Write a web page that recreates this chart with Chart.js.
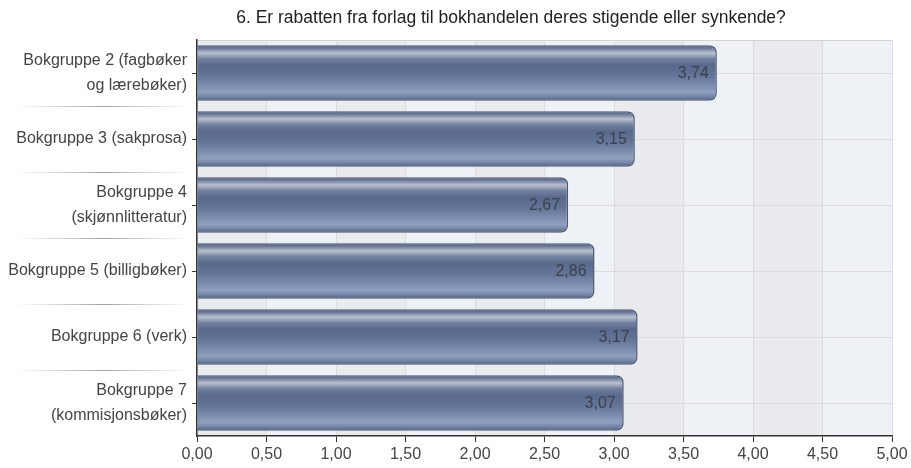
<!DOCTYPE html>
<html>
<head>
<meta charset="utf-8">
<script src="https://cdn.jsdelivr.net/npm/chart.js@4.4.1/dist/chart.umd.min.js"></script>
<style>
  html, body { margin: 0; padding: 0; background: #fff; }
  #wrap { width: 911px; height: 468px; position: relative; }
</style>
</head>
<body>
<div id="wrap"><canvas id="chart"></canvas></div>
<script>
// data
var titleText = '6. Er rabatten fra forlag til bokhandelen deres stigende eller synkende?';
var categories = [
    ['Bokgruppe 2 (fagbøker', 'og lærebøker)'],
    'Bokgruppe 3 (sakprosa)',
    ['Bokgruppe 4', '(skjønnlitteratur)'],
    'Bokgruppe 5 (billigbøker)',
    'Bokgruppe 6 (verk)',
    ['Bokgruppe 7', '(kommisjonsbøker)']
];
var values = [3.74, 3.15, 2.67, 2.86, 3.17, 3.07];
var valueLabels = ['3,74', '3,15', '2,67', '2,86', '3,17', '3,07'];
var xTickLabels = ['0,00', '0,50', '1,00', '1,50', '2,00', '2,50', '3,00', '3,50', '4,00', '4,50', '5,00'];

var FONT = '"Liberation Sans", Arial, sans-serif';

// bakgrunn med striper + ramme
var bandsPlugin = {
    id: 'bands',
    beforeDraw: function (chart) {
        var a = chart.chartArea, ctx = chart.ctx, x = chart.scales.x;
        ctx.save();
        ctx.fillStyle = '#eef1f5';
        ctx.fillRect(a.left, a.top, a.right - a.left, a.bottom - a.top);
        ctx.fillStyle = '#eaebee';
        var t = x.ticks;
        for (var i = 0; i < t.length - 1; i += 2) {
            var x0 = x.getPixelForValue(t[i].value), x1 = x.getPixelForValue(t[i + 1].value);
            ctx.fillRect(x0, a.top, x1 - x0, a.bottom - a.top);
        }
        ctx.strokeStyle = '#d2d2d2';
        ctx.lineWidth = 1;
        ctx.beginPath();
        ctx.moveTo(a.left, a.top + 0.5);
        ctx.lineTo(a.right, a.top + 0.5);
        ctx.stroke();

        // skillelinjer mellom etikettene
        var y = chart.scales.y;
        for (var j = 0; j < categories.length - 1; j++) {
            var yy = Math.round((y.getPixelForValue(j) + y.getPixelForValue(j + 1)) / 2) + 0.5;
            var g = ctx.createLinearGradient(15, 0, a.left - 6, 0);
            g.addColorStop(0, 'rgba(150,150,150,0)');
            g.addColorStop(0.5, 'rgba(130,130,130,0.75)');
            g.addColorStop(1, 'rgba(150,150,150,0)');
            ctx.strokeStyle = g;
            ctx.beginPath();
            ctx.moveTo(15, yy);
            ctx.lineTo(a.left - 6, yy);
            ctx.stroke();
        }
        ctx.restore();
    }
};

// tittel og verdier
var textPlugin = {
    id: 'texts',
    afterDatasetsDraw: function (chart) {
        var ctx = chart.ctx;
        ctx.save();
        ctx.font = '16px ' + FONT;
        ctx.fillStyle = '#3a4050';
        ctx.textAlign = 'right';
        ctx.textBaseline = 'middle';
        chart.getDatasetMeta(0).data.forEach(function (bar, i) {
            ctx.fillText(valueLabels[i], bar.x - 8, bar.y + 1);
        });
        ctx.font = '17.5px ' + FONT;
        ctx.fillStyle = '#222';
        ctx.textAlign = 'center';
        ctx.fillText(titleText, 511, 18);
        ctx.restore();
    }
};

function barGradient(context) {
    var chart = context.chart;
    var y = chart.scales.y;
    if (!chart.chartArea || !y) return '#647598';
    var c = y.getPixelForValue(context.dataIndex);
    var h = (y.height / categories.length) * 0.84;
    var g = chart.ctx.createLinearGradient(0, c - h / 2, 0, c + h / 2);
    g.addColorStop(0, '#4b5878');
    g.addColorStop(0.06, '#717f9d');
    g.addColorStop(0.14, '#bac1cf');
    g.addColorStop(0.24, '#7482a1');
    g.addColorStop(0.36, '#59698c');
    g.addColorStop(0.55, '#637497');
    g.addColorStop(0.85, '#8f9fbf');
    g.addColorStop(0.94, '#7081a4');
    g.addColorStop(1, '#485676');
    return g;
}

new Chart(document.getElementById('chart'), {
    type: 'bar',
    data: {
        labels: categories,
        datasets: [{
            data: values,
            backgroundColor: barGradient,
            borderColor: '#4a5777',
            borderWidth: 1.5,
            borderSkipped: 'start',
            borderRadius: { topRight: 7, bottomRight: 7, topLeft: 0, bottomLeft: 0 },
            categoryPercentage: 0.84,
            barPercentage: 1
        }]
    },
    options: {
        indexAxis: 'y',
        responsive: true,
        maintainAspectRatio: false,
        animation: false,
        layout: { padding: { top: 40, right: 19, left: 0, bottom: 0 } },
        plugins: {
            legend: { display: false },
            tooltip: { enabled: false }
        },
        scales: {
            x: {
                min: 0,
                max: 5,
                ticks: {
                    stepSize: 0.5,
                    color: '#444',
                    font: { family: FONT, size: 16 },
                    padding: 3,
                    callback: function (v, i) { return xTickLabels[i]; }
                },
                grid: { color: '#dcdcdc', tickColor: '#333', tickLength: 6 },
                border: { color: '#333', width: 1.5 },
                afterFit: function (s) { s.height = 32; }
            },
            y: {
                ticks: {
                    color: '#444',
                    font: { family: FONT, size: 16, lineHeight: 1.55 },
                    padding: 5
                },
                grid: { color: '#dcdcdc', tickColor: '#333', tickLength: 5, offset: false },
                border: { color: '#333', width: 1.5 },
                afterFit: function (s) { s.width = 197; }
            }
        }
    },
    plugins: [bandsPlugin, textPlugin]
});
</script>
</body>
</html>
